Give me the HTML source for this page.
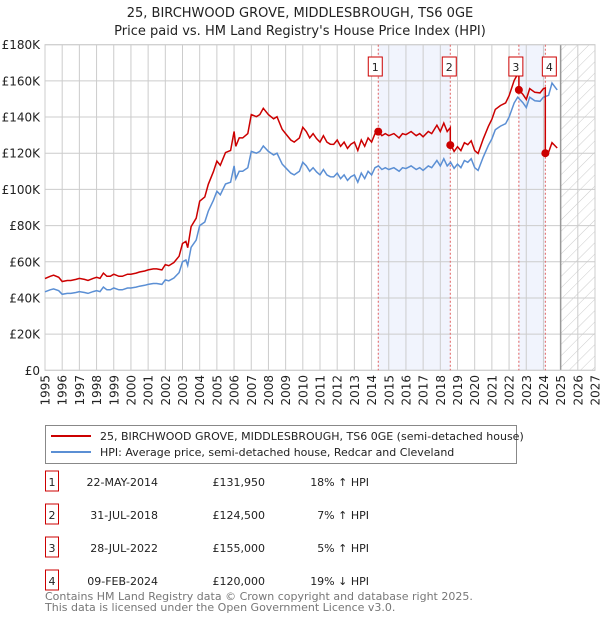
<!DOCTYPE html>
<html><head><meta charset="utf-8">
<style>
body{margin:0;background:#fff;font-family:"DejaVu Sans","Liberation Sans",sans-serif;}
#wrap{position:relative;width:600px;height:620px;overflow:hidden;}
svg text{font-family:"DejaVu Sans","Liberation Sans",sans-serif;}
</style></head>
<body>
<div id="wrap">
<svg id="chart" width="600" height="620"></svg>
</div>
<script>
const hpiYears=[1995,1995.3,1995.5,1995.8,1996,1996.3,1996.5,1996.8,1997,1997.3,1997.5,1997.8,1998,1998.2,1998.4,1998.6,1998.8,1999,1999.3,1999.5,1999.8,2000,2000.3,2000.5,2000.8,2001,2001.3,2001.5,2001.8,2002,2002.2,2002.5,2002.8,2003,2003.2,2003.3,2003.5,2003.8,2004,2004.3,2004.5,2004.8,2005,2005.2,2005.5,2005.8,2006,2006.1,2006.3,2006.5,2006.8,2007,2007.3,2007.5,2007.7,2008,2008.3,2008.5,2008.8,2009,2009.3,2009.5,2009.8,2010,2010.2,2010.4,2010.6,2010.8,2011,2011.2,2011.4,2011.6,2011.8,2012,2012.2,2012.4,2012.6,2012.8,2013,2013.2,2013.4,2013.6,2013.8,2014,2014.2,2014.4,2014.6,2014.8,2015,2015.3,2015.6,2015.8,2016,2016.3,2016.6,2016.8,2017,2017.3,2017.5,2017.8,2018,2018.2,2018.4,2018.6,2018.8,2019,2019.2,2019.4,2019.6,2019.8,2020,2020.2,2020.5,2020.8,2021,2021.2,2021.5,2021.8,2022,2022.3,2022.5,2022.8,2023,2023.2,2023.5,2023.8,2024,2024.3,2024.5,2024.8,2025];
const hpiValues=[43.4,44.5,45,44,42,42.5,42.5,43,43.5,43,42.5,43.5,44,43.5,46,44.5,44.5,45.5,44.5,44.5,45.5,45.5,46,46.5,47,47.5,48,48,47.5,50,49.5,51,54,60,61,58,68,72,80,82,88,94,99,97,103,104,113,106,110,110,112,121,120,121,124,121,119,120,114,112,109,108,110,115,113,110,112,109.6,108,111,108,107,106.9,109,106,108,105,107,108,104,109,106,110,108,112,113,111,112,111,112,110,112,111.5,113,111,112,110.5,113,112,116,113,117,113,115,111.6,114,112,116,115,117,112,110.5,118,124.4,128,133,135,136.3,140,147.8,151,148,145.2,151,149,148.7,151,152,158.8,155];
const saleLabels=["1","2","3","4"];
const saleYears=[2014.39,2018.58,2022.57,2024.11];
const salePrices=[131950,124500,155000,120000];
const saleDates=["22-MAY-2014","31-JUL-2018","28-JUL-2022","09-FEB-2024"];
const salePriceText=["£131,950","£124,500","£155,000","£120,000"];
const salePctText=["18% ↑ HPI","7% ↑ HPI","5% ↑ HPI","19% ↓ HPI"];
const yTicks=[0,20,40,60,80,100,120,140,160,180];
const yTickLabels=["£0","£20K","£40K","£60K","£80K","£100K","£120K","£140K","£160K","£180K"];
const xTicks=[1995,1996,1997,1998,1999,2000,2001,2002,2003,2004,2005,2006,2007,2008,2009,2010,2011,2012,2013,2014,2015,2016,2017,2018,2019,2020,2021,2022,2023,2024,2025,2026,2027];

const NS="http://www.w3.org/2000/svg";
const svg=document.getElementById('chart');
const L=45,R=595,T=44.7,B=370.3;
const X=y=>L+(y-1995)/(2027-1995)*(R-L);
const Y=v=>B-v/180*(B-T);
function mk(tag,attrs,parent){const e=document.createElementNS(NS,tag);for(const k in attrs)e.setAttribute(k,attrs[k]);(parent||svg).appendChild(e);return e;}
function hpiAt(y){for(let i=0;i<hpiYears.length-1;i++){if(y<=hpiYears[i+1]){const t=(y-hpiYears[i])/(hpiYears[i+1]-hpiYears[i]);return hpiValues[i]+t*(hpiValues[i+1]-hpiValues[i]);}}return hpiValues[hpiValues.length-1];}

let t=mk('text',{x:300,y:17,'text-anchor':'middle','font-size':13,fill:'#222'});t.textContent="25, BIRCHWOOD GROVE, MIDDLESBROUGH, TS6 0GE";

t=mk('text',{x:300,y:35,'text-anchor':'middle','font-size':13,fill:'#222'});t.textContent="Price paid vs. HM Land Registry's House Price Index (HPI)";


const defs=mk('defs',{});
const pat=mk('pattern',{id:'hatch',width:8,height:8,patternUnits:'userSpaceOnUse',patternTransform:'rotate(45)'},defs);
mk('line',{x1:0,y1:0,x2:0,y2:8,stroke:'#ccc','stroke-width':1},pat);
let s=mk('rect',{x:X(saleYears[0]),y:T,width:X(saleYears[1])-X(saleYears[0]),height:B-T,fill:'#f1f4fd'});

s=mk('rect',{x:X(saleYears[2]),y:T,width:X(saleYears[3])-X(saleYears[2]),height:B-T,fill:'#f1f4fd'});

s=mk('rect',{x:X(2025),y:T,width:R-X(2025),height:B-T,fill:'url(#hatch)'});


yTicks.forEach((v,i)=>{
 const g=mk('line',{x1:L,x2:R,y1:Y(v),y2:Y(v),stroke:'#cccccc','stroke-width':1});
 
 const tx=mk('text',{x:L-5,y:Y(v)+4.5,'text-anchor':'end','font-size':12,fill:'#222'});tx.textContent=yTickLabels[i];
 
});
xTicks.forEach(yr=>{
 const g=mk('line',{x1:X(yr),x2:X(yr),y1:T,y2:B,stroke:'#cccccc','stroke-width':1});
 
 const tx=mk('text',{x:0,y:0,'text-anchor':'end','font-size':12,fill:'#222',transform:`translate(${X(yr)+4.5},375) rotate(-90)`});tx.textContent=yr;
 
});
s=mk('line',{x1:X(2025),x2:X(2025),y1:T,y2:B,stroke:'#999','stroke-width':1.5});

s=mk('rect',{x:L,y:T,width:R-L,height:B-T,fill:'none',stroke:'#cccccc'});


saleYears.forEach((yr,i)=>{
 const l=mk('line',{x1:X(yr),x2:X(yr),y1:T,y2:B,stroke:'#e06060','stroke-width':1,'stroke-dasharray':'2,2'});
 
});

let d='';hpiYears.forEach((yr,i)=>{d+=(i?'L':'M')+X(yr).toFixed(1)+','+Y(hpiValues[i]).toFixed(1);});
s=mk('path',{d:d,fill:'none',stroke:'#5b8fd4','stroke-width':1.5});


const ratios=saleYears.map((yr,i)=>salePrices[i]/1000/hpiAt(yr));
function ratioAt(yr){let r=ratios[0];for(let i=0;i<saleYears.length;i++){if(yr>=saleYears[i])r=ratios[i];}return r;}
const pts=[];
hpiYears.forEach((yr,i)=>{
 saleYears.forEach((sy,j)=>{if(sy>(i?hpiYears[i-1]:0)&&sy<=yr){pts.push([sy,hpiAt(sy)*(j?ratios[j-1]:ratios[0])]);pts.push([sy,salePrices[j]/1000]);}});
 pts.push([yr,hpiValues[i]*ratioAt(yr)]);
});
d='';pts.forEach((p,i)=>{d+=(i?'L':'M')+X(p[0]).toFixed(1)+','+Y(p[1]).toFixed(1);});
s=mk('path',{d:d,fill:'none',stroke:'#cc0000','stroke-width':1.5});


saleYears.forEach((yr,i)=>{
 const c=mk('circle',{cx:X(yr),cy:Y(salePrices[i]/1000),r:4,fill:'#cc0000'});
 
 const r=mk('rect',{x:[X(yr)-10,X(yr)-8,X(yr)-10,X(yr)-3][i],y:57,width:14,height:19,fill:'#fff',stroke:'#cc0000'});
 
 const tx=mk('text',{x:+r.getAttribute('x')+7,y:71,'text-anchor':'middle','font-size':11,fill:'#222'});tx.textContent=saleLabels[i];
 
});

s=mk('rect',{x:45.5,y:425.5,width:471,height:38,fill:'#fff',stroke:'#888'});

s=mk('line',{x1:51,x2:91,y1:436,y2:436,stroke:'#cc0000','stroke-width':2});

s=mk('line',{x1:51,x2:91,y1:452,y2:452,stroke:'#5b8fd4','stroke-width':2});

t=mk('text',{x:100,y:440,'font-size':11,fill:'#222'});t.textContent="25, BIRCHWOOD GROVE, MIDDLESBROUGH, TS6 0GE (semi-detached house)";

t=mk('text',{x:100,y:456,'font-size':11,fill:'#222'});t.textContent="HPI: Average price, semi-detached house, Redcar and Cleveland";


saleLabels.forEach((lab,i)=>{
 const y=482+i*33;
 const r=mk('rect',{x:45.5,y:y-11,width:13,height:20,fill:'#fff',stroke:'#cc0000'});
 
 let tx=mk('text',{x:52,y:y+4,'text-anchor':'middle','font-size':11,fill:'#222'});tx.textContent=lab;
 
 tx=mk('text',{x:158,y:y+4,'text-anchor':'end','font-size':11,fill:'#222'});tx.textContent=saleDates[i];
 
 tx=mk('text',{x:265,y:y+4,'text-anchor':'end','font-size':11,fill:'#222'});tx.textContent=salePriceText[i];
 
 tx=mk('text',{x:369,y:y+4,'text-anchor':'end','font-size':11,fill:'#222'});tx.textContent=salePctText[i];
 
});
t=mk('text',{x:45,y:600,'font-size':11,fill:'#777'});t.textContent="Contains HM Land Registry data © Crown copyright and database right 2025.";

t=mk('text',{x:45,y:611,'font-size':11,fill:'#777'});t.textContent="This data is licensed under the Open Government Licence v3.0.";

</script>
</body></html>
